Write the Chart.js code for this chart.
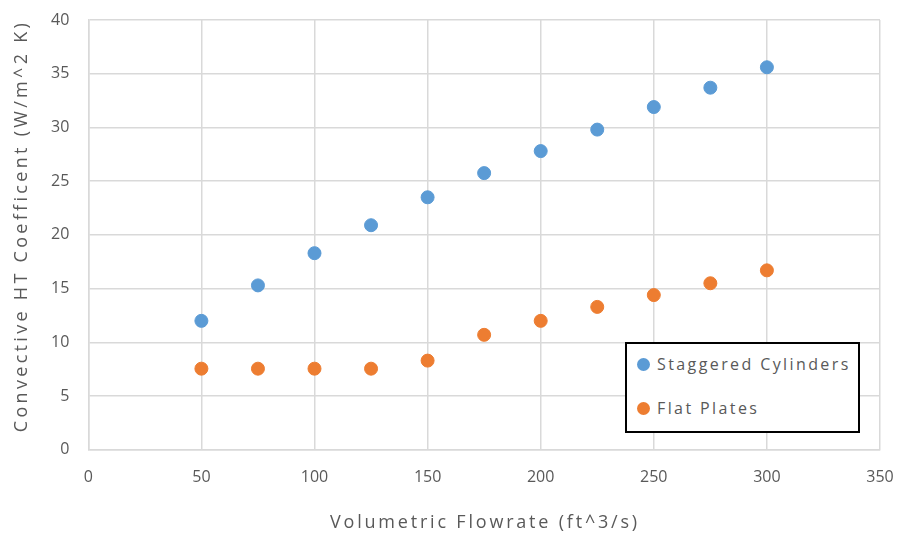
<!DOCTYPE html>
<html>
<head>
<meta charset="utf-8">
<script src="https://cdn.jsdelivr.net/npm/chart.js@4"></script>
<style>
  html, body { margin: 0; padding: 0; background: #fff; }
  #wrap { position: relative; width: 899px; height: 537px; }
  #legend {
    position: absolute; left: 625px; top: 342px; width: 235px; height: 91px;
    border: 2px solid #000; background: #fff; box-sizing: border-box;
    font-family: "Open Sans", sans-serif; font-size: 16px; color: #595959;
    letter-spacing: 2.4px; padding: 0 0 0 10px;
  }
  #legend div { height: 44px; display: flex; align-items: center; }
  #legend div:first-child { margin-top: -2px; }
  #legend span.dot { width: 13px; height: 13px; border-radius: 50%; display: inline-block; margin-right: 7px; }
</style>
</head>
<body>
<div id="wrap">
  <canvas id="chart1" width="899" height="537"></canvas>
  <div id="legend"></div>
</div>
<script>
const flowrate = [50, 75, 100, 125, 150, 175, 200, 225, 250, 275, 300];
const staggered = [12.0, 15.3, 18.3, 20.9, 23.5, 25.75, 27.8, 29.8, 31.9, 33.7, 35.6];
const flatPlates = [7.55, 7.55, 7.55, 7.55, 8.3, 10.7, 12.0, 13.3, 14.4, 15.5, 16.7];
const seriesNames = ['Staggered Cylinders', 'Flat Plates'];
const seriesColors = ['#5B9BD5', '#ED7D31'];
const xTitle = 'Volumetric Flowrate (ft^3/s)';
const yTitle = 'Convective HT Coefficent (W/m^2 K)';

const toPoints = (ys) => flowrate.map((x, i) => ({ x: x, y: ys[i] }));
const gridColor = '#d9d9d9';
const textColor = '#595959';
const font = { family: '"Open Sans", sans-serif', size: 16 };

// axis titles drawn by hand so the wide letter spacing can be kept
const axisTitles = {
  id: 'axisTitles',
  afterDraw(chart) {
    const { ctx } = chart;
    ctx.save();
    ctx.fillStyle = textColor;
    ctx.font = '18px "Open Sans", sans-serif';
    ctx.textAlign = 'center';
    ctx.textBaseline = 'middle';
    ctx.letterSpacing = '2.8px';
    ctx.fillText(xTitle, 485, 523);
    ctx.letterSpacing = '3.3px';
    ctx.translate(22, 226);
    ctx.rotate(-Math.PI / 2);
    ctx.fillText(yTitle, 0, 0);
    ctx.restore();
  }
};

const ctx1 = document.getElementById('chart1').getContext('2d');
const chart = new Chart(ctx1, {
  type: 'scatter',
  data: {
    datasets: [staggered, flatPlates].map((ys, i) => ({
      label: seriesNames[i],
      data: toPoints(ys),
      backgroundColor: seriesColors[i],
      borderColor: seriesColors[i],
      pointRadius: 6.5,
      pointHoverRadius: 6.5
    }))
  },
  options: {
    responsive: false,
    animation: false,
    layout: { padding: { left: 32, right: 19, top: 20, bottom: 32 } },
    plugins: { legend: { display: false }, tooltip: { enabled: false } },
    scales: {
      x: {
        min: 0, max: 350,
        ticks: { stepSize: 50, color: textColor, font: font, padding: 18 },
        grid: { color: gridColor, lineWidth: 1.5, drawTicks: false },
        border: { color: gridColor, width: 1.5 },
        afterFit(s) { s.paddingLeft = 0; s.paddingRight = 14; }
      },
      y: {
        min: 0, max: 40,
        ticks: { stepSize: 5, color: textColor, font: font, padding: 19 },
        grid: { color: gridColor, lineWidth: 1.5, drawTicks: false },
        border: { color: gridColor, width: 1.5 },
        afterFit(s) { s.paddingTop = 10; s.paddingBottom = 0; }
      }
    }
  },
  plugins: [axisTitles]
});

const legendEl = document.getElementById('legend');
seriesNames.forEach((name, i) => {
  const row = document.createElement('div');
  row.innerHTML = '<span class="dot" style="background:' + seriesColors[i] + '"></span>' + name;
  legendEl.appendChild(row);
});
</script>
</body>
</html>
